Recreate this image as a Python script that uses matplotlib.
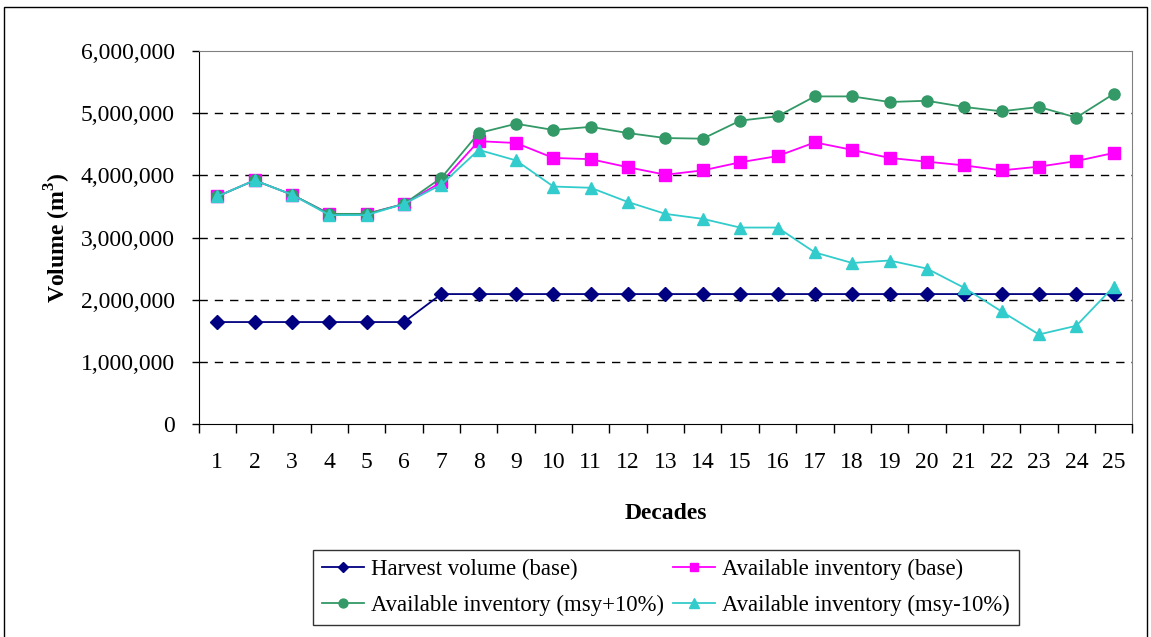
import numpy as np
import matplotlib
matplotlib.use("Agg")
import matplotlib.pyplot as plt
from matplotlib.ticker import FuncFormatter, FixedLocator
from matplotlib.patches import Rectangle

plt.rcParams['font.family'] = ['Liberation Serif', 'DejaVu Serif']
plt.rcParams['mathtext.fontset'] = 'custom'
plt.rcParams['mathtext.rm'] = 'Liberation Serif'
plt.rcParams['mathtext.bf'] = 'Liberation Serif:bold'

# decades 1..25
decades = list(range(1, 26))

harvest_base = [1640000, 1640000, 1640000, 1640000, 1640000, 1640000,
                2090000, 2090000, 2090000, 2090000, 2090000, 2090000,
                2090000, 2090000, 2090000, 2090000, 2090000, 2090000,
                2090000, 2090000, 2090000, 2090000, 2090000, 2090000, 2090000]

inv_base = [3660000, 3920000, 3690000, 3380000, 3380000, 3540000, 3890000,
            4550000, 4520000, 4280000, 4260000, 4130000, 4010000, 4080000,
            4210000, 4310000, 4530000, 4410000, 4280000, 4220000, 4160000,
            4080000, 4140000, 4230000, 4360000]

inv_plus10 = [3660000, 3920000, 3690000, 3380000, 3380000, 3540000, 3960000,
              4680000, 4830000, 4730000, 4780000, 4680000, 4600000, 4590000,
              4880000, 4950000, 5270000, 5270000, 5180000, 5200000, 5100000,
              5030000, 5100000, 4930000, 5310000]

inv_minus10 = [3660000, 3920000, 3690000, 3360000, 3360000, 3540000, 3850000,
               4410000, 4240000, 3820000, 3800000, 3570000, 3380000, 3300000,
               3160000, 3160000, 2760000, 2590000, 2630000, 2500000, 2190000,
               1810000, 1440000, 1580000, 2210000]

series_labels = ['Harvest volume (base)', 'Available inventory (base)',
                 'Available inventory (msy+10%)', 'Available inventory (msy-10%)']

fig = plt.figure(figsize=(11.51, 6.37), dpi=100)
ax = fig.add_axes([0.1725, 0.3344, 0.9838 - 0.1725, 0.9199 - 0.3344])

l1, = ax.plot(decades, harvest_base, color='#000080', marker='D', ms=7, lw=1.3,
              label=series_labels[0], zorder=3)
l2, = ax.plot(decades, inv_base, color='#FF00FF', marker='s', ms=8, lw=1.3,
              label=series_labels[1], zorder=4)
l3, = ax.plot(decades, inv_plus10, color='#339966', marker='o', ms=8, lw=1.3,
              label=series_labels[2], zorder=5)
l4, = ax.plot(decades, inv_minus10, color='#33CCCC', marker='^', ms=9, lw=1.3,
              label=series_labels[3], zorder=6)

ax.set_xlim(0.5, 25.5)
ax.set_ylim(0, 6000000)

# gridlines
for v in range(1000000, 6000000, 1000000):
    ax.axhline(v, color='black', lw=1, ls=(0, (6, 5)), zorder=1)

ax.set_yticks(range(0, 6000001, 1000000))
ax.yaxis.set_major_formatter(FuncFormatter(lambda v, p: f'{int(v):,}'))
ax.tick_params(axis='y', direction='out', length=5, width=1, pad=12,
               labelsize=17)

ax.set_xticks(decades)
ax.tick_params(axis='x', which='major', length=0, pad=20, labelsize=17)
ax.xaxis.set_minor_locator(FixedLocator(np.arange(0.5, 26, 1)))
ax.tick_params(axis='x', which='minor', direction='out', length=6.5, width=1)

for side in ['top', 'right']:
    ax.spines[side].set_color('#808080')
for side in ['left', 'bottom']:
    ax.spines[side].set_color('black')

ax.set_xlabel('Decades', fontsize=17, fontweight='bold', labelpad=22)
ax.set_ylabel('Volume (m$^{\\mathbf{3}}$)', fontsize=17, fontweight='bold')
ax.yaxis.set_label_coords(-0.134, 0.5)

# legend filled row by row
handles = [l1, l3, l2, l4]
leg = fig.legend(handles, [h.get_label() for h in handles], loc='center', ncol=2,
                 bbox_to_anchor=((310 + 1022) / 2 / 1151, 1 - (548 + 627) / 2 / 637),
                 fontsize=16.4, frameon=True, fancybox=False, edgecolor='black',
                 handlelength=1.85, handletextpad=0.3, columnspacing=0.4,
                 borderpad=0.4, labelspacing=0.62, markerscale=0.8)
leg.get_frame().set_linewidth(1)

fig.patches.append(Rectangle((4 / 1151, -0.02), (1147 - 4) / 1151, 1.02 - 7 / 637,
                             transform=fig.transFigure, fill=False,
                             edgecolor='black', lw=1))

fig.savefig('out.png', dpi=100)
